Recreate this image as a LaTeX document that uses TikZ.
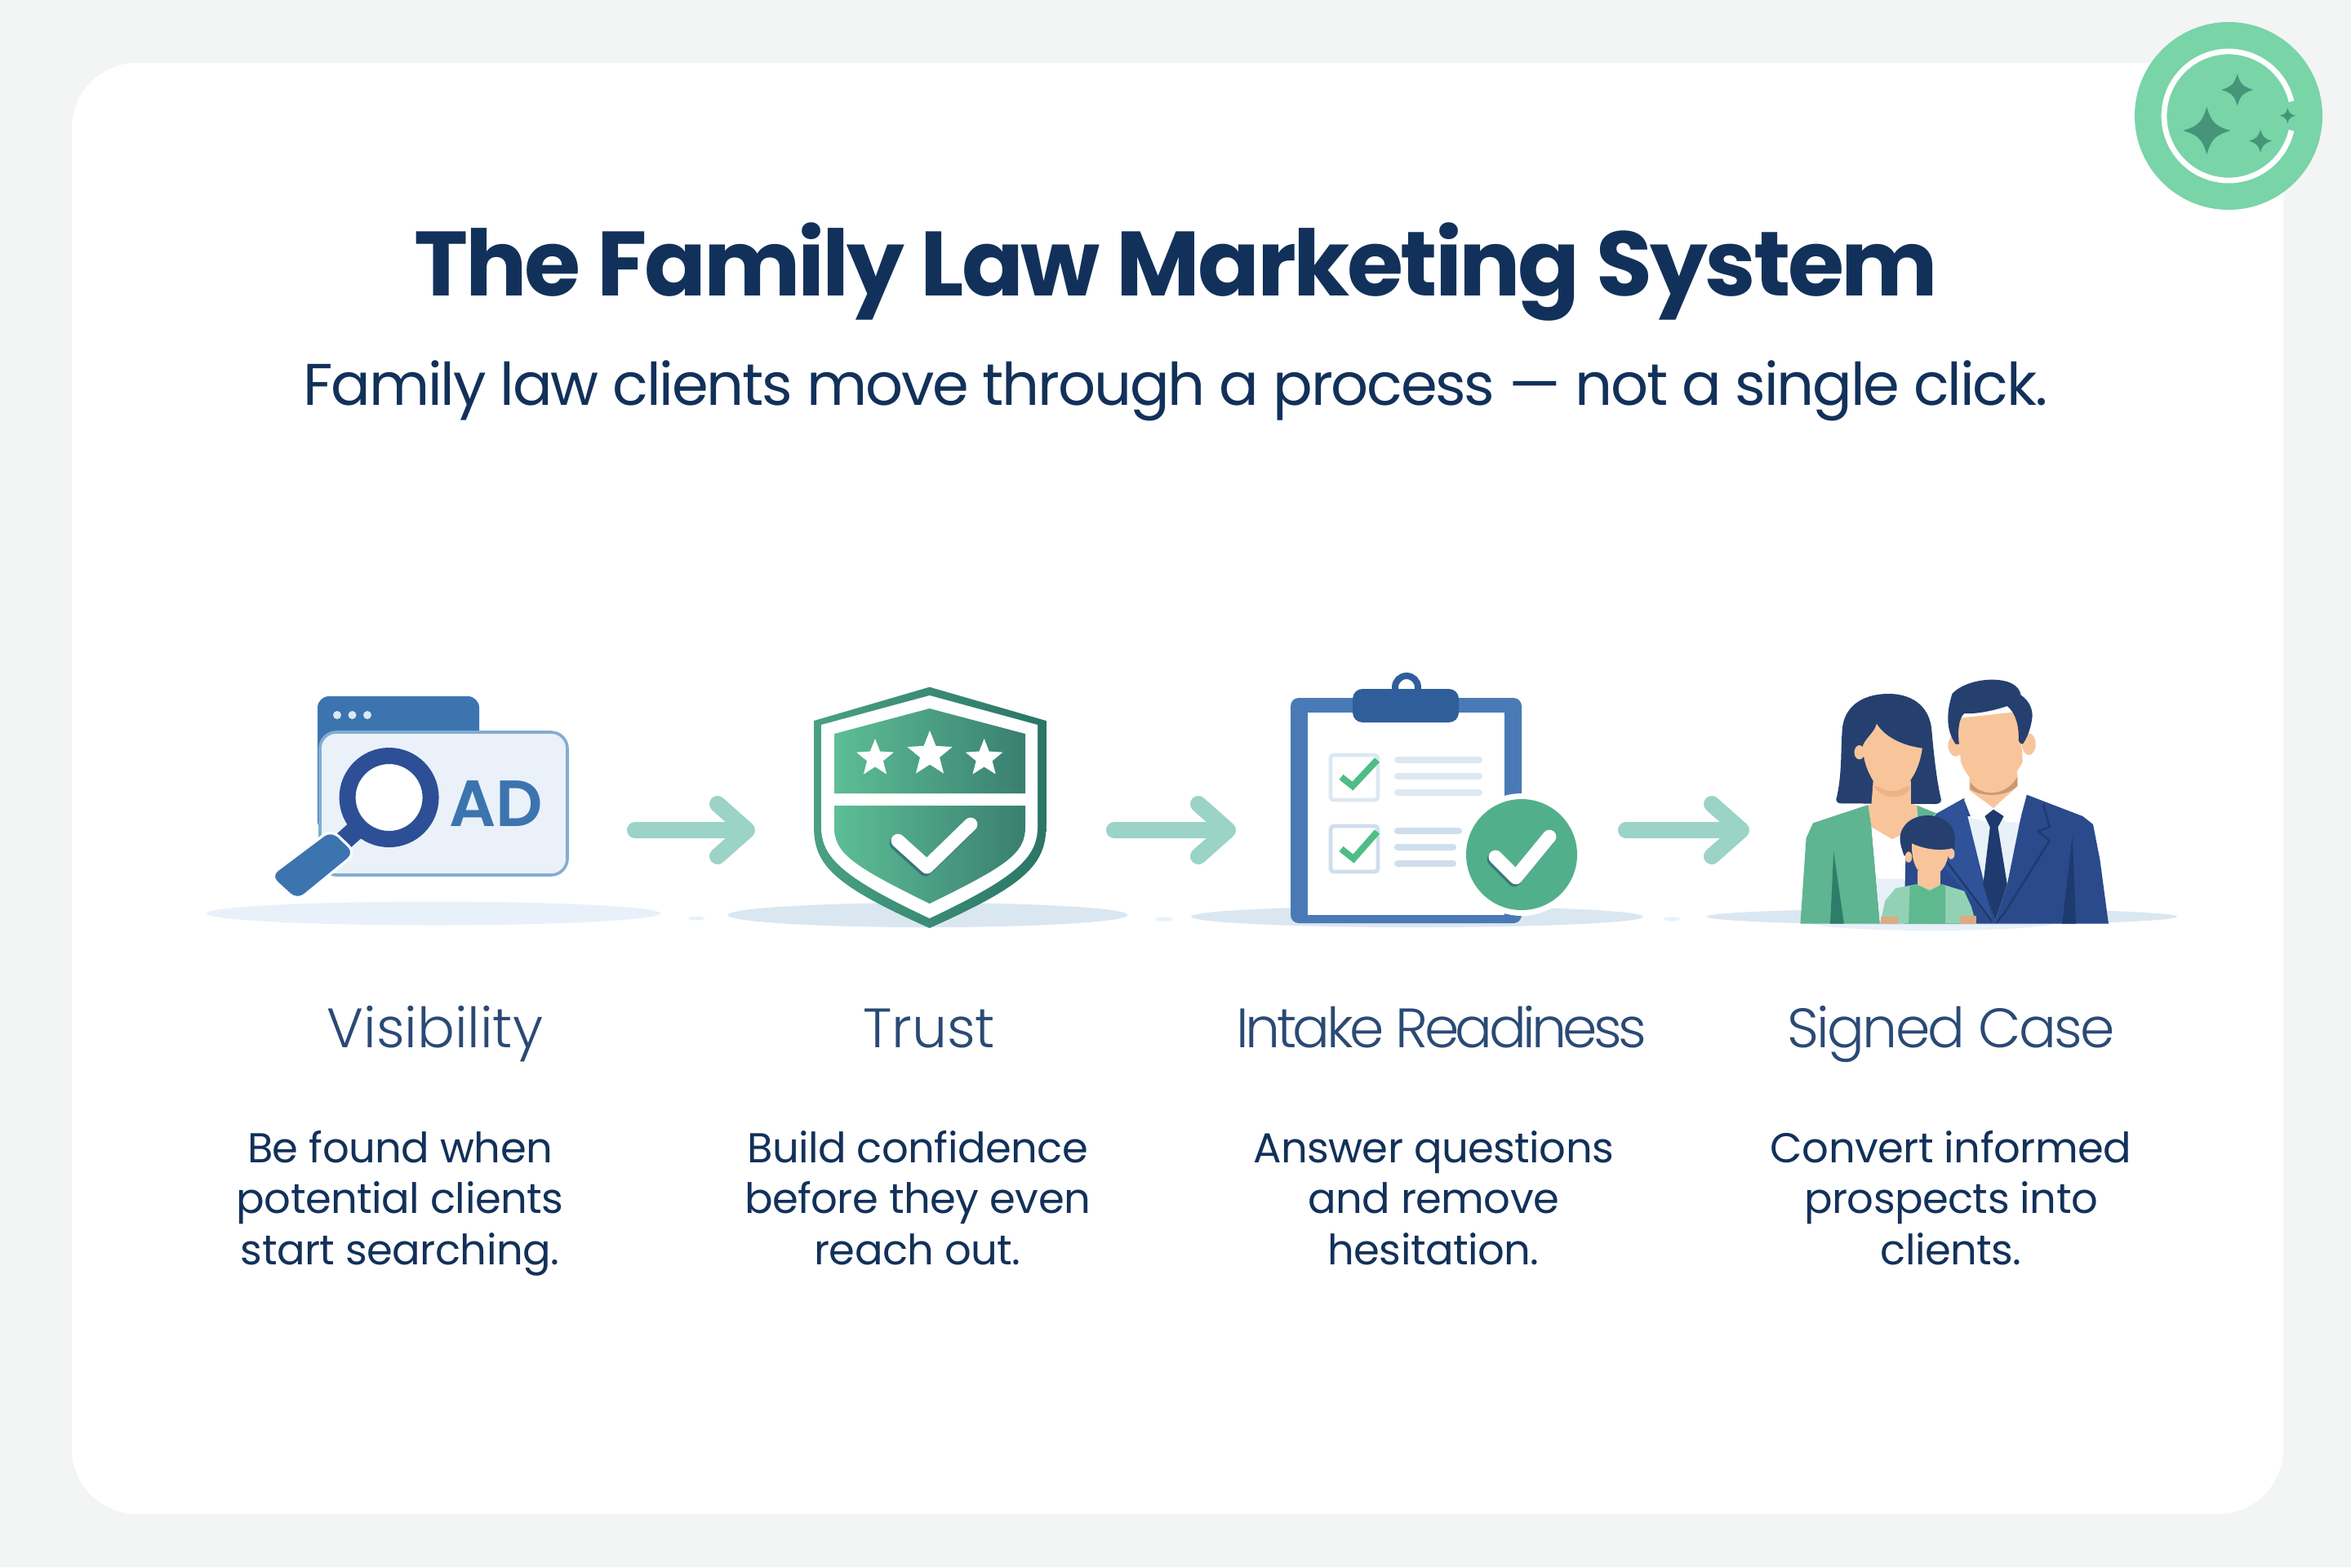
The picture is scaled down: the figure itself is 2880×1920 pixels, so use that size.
\documentclass[tikz,border=0pt]{standalone}
\usepackage{fontspec}
\setmainfont{Poppins}
\newfontfamily\lightfont{Poppins Light}
\newfontfamily\semifont{Poppins SemiBold}
\usetikzlibrary{arrows.meta,shapes.geometric}

\definecolor{pagegrey}{HTML}{F3F5F4}
\definecolor{navy}{HTML}{12315A}
\definecolor{labelblue}{HTML}{2A4A75}
\definecolor{badgegreen}{HTML}{79D4A8}
\definecolor{sparkgreen}{HTML}{46957A}
\definecolor{arrowteal}{HTML}{9BD3C7}
\definecolor{winblue}{HTML}{3C74B0}
\definecolor{ringblue}{HTML}{2D4F96}
\definecolor{cardblue}{HTML}{EAF1F9}
\definecolor{cardline}{HTML}{84ADD0}
\definecolor{groundA}{HTML}{E8F1F9}
\definecolor{groundB}{HTML}{DAE7F1}
\definecolor{shieldlight}{HTML}{5DBE96}
\definecolor{shielddark}{HTML}{3A7F70}
\definecolor{shieldedge}{HTML}{2B7566}
\definecolor{boardblue}{HTML}{4A7AB5}
\definecolor{clipblue}{HTML}{2F5E9B}
\definecolor{paleline}{HTML}{DCE8F2}
\definecolor{paleline2}{HTML}{CFDEEC}
\definecolor{tickgreen}{HTML}{4FBD86}
\definecolor{discgreen}{HTML}{52AF8C}
\definecolor{hairblue}{HTML}{25406F}
\definecolor{skin}{HTML}{F8C59B}
\definecolor{skinshade}{HTML}{EDB388}
\definecolor{jacketgreen}{HTML}{5FB491}
\definecolor{folddark}{HTML}{2E7D6B}
\definecolor{suitblue}{HTML}{2A4A8C}
\definecolor{suitlight}{HTML}{2F5299}
\definecolor{tieblue}{HTML}{1E3A6E}
\definecolor{shirtpale}{HTML}{E8F0F8}
\definecolor{kidjacket}{HTML}{93D1B4}
\definecolor{kidshirt}{HTML}{5FB98E}
\definecolor{kidhand}{HTML}{DDAA82}

\tikzset{
    titletext/.style={font=\bfseries\fontsize{28}{34}\selectfont\addfontfeatures{LetterSpace=-3.05}, text=navy, anchor=base, inner sep=0pt},
    subtext/.style={font=\fontsize{18}{22}\selectfont\addfontfeatures{LetterSpace=-3.05}, text=navy, anchor=base, inner sep=0pt},
    steplabel/.style={font=\lightfont\fontsize{17}{21}\selectfont, text=labelblue, anchor=base, inner sep=0pt},
    stepdesc/.style={font=\fontsize{12.8}{15.6}\selectfont\addfontfeatures{LetterSpace=-1.1}, text=navy, anchor=base, align=center, inner sep=0pt},
    flowarrow/.style={draw=arrowteal, line width=5pt, line cap=round, -{Straight Barb[length=9pt,width=16pt,round]}},
    tick/.style={line width=4.2pt, line cap=round, line join=round, draw=white},
    tickshade/.style={line width=4.2pt, line cap=round, line join=round, draw=tieblue, opacity=.45},
    ticksmall/.style={line width=2pt, line join=miter, draw=tickgreen},
    textline/.style={line width=2pt, line cap=round, draw=paleline},
    starmark/.style={star, star points=5, star point ratio=2.3, fill=white, inner sep=0pt}
}
\newcommand{\sparkle}[3]{\fill[sparkgreen, shift={(#1,#2)}, scale=#3] (-1,0) .. controls (-.35,-.2) and (-.2,-.35) .. (0,-1) .. controls (.2,-.35) and (.35,-.2) .. (1,0) .. controls (.35,.2) and (.2,.35) .. (0,1) .. controls (-.2,.35) and (-.35,.2) .. (-1,0) -- cycle;}

\begin{document}
\begin{tikzpicture}[x=.25pt,y=-.25pt]
    \useasboundingbox (0,0) rectangle (2880,1920);
    \fill[pagegrey] (0,0) rectangle (2880,1920);
    % Card
    \fill[white, rounded corners=20pt] (88,77) rectangle (2797,1855);

    %% BADGE
    \fill[badgegreen] (2730,142) circle[radius=115];
    % Ring
    \draw[white, line width=1.7pt] (2807,159.8) arc (13:347:79);
    % Sparkles
    \sparkle{2703.3}{160}{29}
    \sparkle{2740.7}{110}{19.5}
    \sparkle{2769}{172.7}{14}
    \sparkle{2802.3}{141.7}{9.3}

    %% TITLE
    \node[titletext] (title) at (1441,362) {The Family Law Marketing System};
    \node[subtext] (subtitle) at (1440,496) {Family law clients move through a process — not a single click.};

    %% GROUND
    \fill[groundA] (531,1119) ellipse[x radius=278, y radius=14.5];
    \fill[groundA] (853,1125) ellipse[x radius=10, y radius=2.5];
    \fill[groundB] (1136.5,1121) ellipse[x radius=245, y radius=15];
    \fill[groundA] (1426,1126) ellipse[x radius=11, y radius=2.5];
    \fill[groundB] (1736,1123) ellipse[x radius=277, y radius=13];
    \fill[groundA] (2048,1126) ellipse[x radius=10, y radius=2.5];
    \fill[groundA] (2368,1130) ellipse[x radius=150, y radius=10];
    \fill[groundB] (2379,1123) ellipse[x radius=288, y radius=10];

    %% VISIBILITY
    % Window
    \fill[winblue, rounded corners=3.5pt] (389,853) rectangle (587,1020);
    \fill[paleline] (413,876) circle[radius=5];
    \fill[paleline] (431.5,876) circle[radius=5];
    \fill[paleline] (450,876) circle[radius=5];
    % Ad card
    \draw[cardline, fill=cardblue, line width=.9pt, rounded corners=5pt] (392,897) rectangle (695,1072);
    \node[font=\semifont\fontsize{20}{24}\selectfont, text=winblue, anchor=base, inner sep=0pt] (adtext) at (608,1012) {AD};
    % Magnifier
    \draw[ringblue, line width=6pt] (440,1013) -- (420,1031);
    \draw[ringblue, fill=white, line width=5pt] (476.6,977) circle[radius=51];
    \draw[white, fill=winblue, line width=.8pt, rounded corners=3pt] (406,1016) -- (436,1045) -- (364,1104) -- (330,1073) -- cycle;

    %% TRUST
    % Outer
    \path[left color=shieldlight!60!shieldedge, right color=shieldedge] (1138.7,841.7) -- (1281.5,883) -- (1281.5,1013) .. controls (1281,1060) and (1255,1085) .. (1138.7,1137) .. controls (1022,1085) and (997,1060) .. (997,1013) -- (997,883) -- cycle;
    % Inner
    \fill[white] (1138.7,852) -- (1271,888) -- (1271,1013) .. controls (1271,1050) and (1245,1075) .. (1138.7,1125) .. controls (1032,1075) and (1006,1050) .. (1006,1013) -- (1006,888) -- cycle;
    % Panels
    \path[left color=shieldlight, middle color=shieldlight, right color=shielddark] (1138.7,868) -- (1256,899) -- (1256,972) -- (1022,972) -- (1022,899) -- cycle;
    \path[left color=shieldlight, middle color=shieldlight!70!shielddark, right color=shielddark] (1022,987) -- (1256,987) -- (1256,1013) .. controls (1256,1045) and (1235,1060) .. (1138.7,1107) .. controls (1043,1060) and (1022,1045) .. (1022,1013) -- cycle;
    % Stars
    \node[starmark, minimum size=12pt] (stara) at (1072,929) {};
    \node[starmark, minimum size=14.5pt] (starb) at (1139,924) {};
    \node[starmark, minimum size=12pt] (starc) at (1205.6,929) {};
    % Check
    \draw[tickshade] (1098,1033) -- (1133.5,1065) -- (1187,1013);
    \draw[tick] (1100,1030) -- (1135.5,1062) -- (1189,1010);

    %% INTAKE READINESS
    % Board
    \fill[boardblue, rounded corners=2.5pt] (1581,855) rectangle (1864,1131);
    \fill[white] (1602,873) rectangle (1843,1121);
    % Clip
    \draw[clipblue, line width=2pt] (1723,842) circle[radius=14];
    \fill[clipblue, rounded corners=3pt] (1657,844) rectangle (1787,885);
    % Boxes
    \draw[paleline, line width=1.2pt, rounded corners=1pt] (1630,925) rectangle (1688,980);
    \draw[paleline2, line width=1.2pt, rounded corners=1pt] (1630,1012) rectangle (1688,1068);
    \draw[ticksmall] (1643,952) -- (1657,963) -- (1687,931);
    \draw[ticksmall] (1643,1040) -- (1658,1052) -- (1687,1019);
    % Text lines
    \draw[textline] (1712,931) -- (1812,931);
    \draw[textline] (1712,951) -- (1812,951);
    \draw[textline] (1712,971) -- (1812,971);
    \draw[textline, draw=paleline2] (1712,1018) -- (1787,1018);
    \draw[textline, draw=paleline2] (1712,1038) -- (1780,1038);
    \draw[textline, draw=paleline2] (1712,1058) -- (1780,1058);
    % Disc
    \fill[white] (1864,1047) circle[radius=75];
    \fill[discgreen] (1864,1047) circle[radius=68];
    \draw[tickshade] (1830,1053) -- (1855,1078) -- (1896,1028);
    \draw[tick] (1832,1050) -- (1857,1075) -- (1898,1025);

    %% SIGNED CASE
    \begin{scope}[shift={(2040,800)},x=.10522pt,y=-.08333pt]
        %% WOMAN
        % Hair
        \fill[hairblue] (497,540) .. controls (515,450) and (510,360) .. (515,280) .. controls (520,200) and (570,150) .. (650,150) .. controls (730,150) and (770,210) .. (775,280) .. controls (782,380) and (790,470) .. (803,540) .. controls (803,550) and (795,555) .. (785,555) -- (515,553) .. controls (503,553) and (497,548) .. (497,540) -- cycle;
        % Neck
        \fill[skin] (605,470) -- (600,555) -- (590,560) -- (600,640) -- (660,685) -- (730,640) -- (735,560) -- (715,555) -- (715,470) -- cycle;
        \fill[skinshade] (607,490) .. controls (630,540) and (700,545) .. (715,490) -- cycle;
        % Face
        \fill[skin] (565,365) circle[x radius=15, y radius=26];
        \fill[skin] (575,340) .. controls (585,310) and (610,290) .. (615,260) .. controls (640,310) and (690,340) .. (748,350) .. controls (740,420) and (720,460) .. (700,490) .. controls (670,515) and (640,515) .. (610,480) .. controls (585,430) and (575,390) .. (575,340) -- cycle;
        % Jacket
        \fill[jacketgreen] (590,558) -- (430,625) -- (410,680) -- (393,995) -- (625,995) -- (600,640) -- cycle;
        \fill[jacketgreen] (733,560) -- (790,590) -- (735,640) -- cycle;
        \fill[folddark] (490,730) -- (480,995) -- (520,995) -- cycle;
        % Blouse
        \fill[white] (600,640) -- (660,685) -- (700,680) -- (700,995) -- (625,995) -- cycle;
        \fill[shirtpale] (615,830) -- (700,830) -- (700,995) -- (625,995) -- cycle;

        %% MAN
        % Suit
        \fill[suitblue] (868,535) -- (790,590) -- (700,720) -- (695,995) -- (1290,995) -- (1265,760) -- (1245,630) -- (1215,600) -- (1050,520) -- cycle;
        \fill[suitlight] (868,535) -- (790,590) -- (800,770) -- (955,995) -- (925,850) -- cycle;
        % Shirt
        \fill[shirtpale] (880,600) -- (1035,600) -- (995,850) -- (960,985) -- (930,855) -- cycle;
        % Neck
        \fill[skin] (885,440) -- (885,510) -- (955,570) -- (1025,500) -- (1025,440) -- cycle;
        \fill[skinshade!85!black] (887,475) .. controls (920,530) and (990,530) .. (1025,455) -- (1025,490) .. controls (990,530) and (920,530) .. (887,500) -- cycle;
        % Collar
        \fill[white] (870,540) -- (890,605) -- (930,620) -- (955,575) -- (990,620) -- (1030,625) -- (1052,520) -- (1025,490) -- (955,570) -- (885,505) -- cycle;
        % Tie
        \fill[tieblue] (930,600) -- (955,575) -- (985,600) -- (968,640) -- (995,850) -- (960,985) -- (925,850) -- (945,640) -- cycle;
        % Lapels
        \draw[tieblue, line width=.6pt] (1100,555) -- (1118,640) -- (1085,655) -- (1118,690) -- (990,950) -- (965,990);
        \draw[tieblue, line width=.6pt] (815,760) -- (950,985);
        \fill[tieblue] (1185,670) -- (1155,995) -- (1195,995) -- cycle;
        % Head
        \fill[skin] (845,340) circle[x radius=22, y radius=40];
        \fill[skin] (1058,335) circle[x radius=20, y radius=40];
        \fill[skin] (850,240) -- (1030,215) -- (1040,400) .. controls (1020,450) and (985,505) .. (950,505) .. controls (910,505) and (875,450) .. (860,400) -- cycle;
        % Hair
        \fill[hairblue] (845,335) .. controls (820,290) and (815,230) .. (835,150) .. controls (860,115) and (910,98) .. (950,98) .. controls (995,98) and (1030,115) .. (1035,155) .. controls (1060,175) and (1070,210) .. (1068,235) .. controls (1065,270) and (1055,310) .. (1040,335) .. controls (1035,335) and (1030,330) .. (1028,320) .. controls (1030,270) and (1020,220) .. (995,195) .. controls (960,210) and (910,225) .. (870,222) .. controls (855,240) and (850,280) .. (855,335) -- cycle;

        %% CHILD
        % Hair
        \fill[hairblue] (683,680) .. controls (685,630) and (720,597) .. (765,597) .. controls (810,597) and (843,635) .. (843,680) .. controls (843,700) and (840,730) .. (835,750) -- (695,745) .. controls (688,720) and (683,700) .. (683,680) -- cycle;
        % Head
        \fill[skin] (708,750) circle[x radius=10, y radius=20];
        \fill[skin] (832,738) circle[x radius=10, y radius=20];
        \fill[skin] (735,800) rectangle (800,870);
        \fill[skin] (718,700) .. controls (740,715) and (790,730) .. (825,720) .. controls (825,770) and (805,815) .. (770,825) .. controls (735,820) and (715,770) .. (718,700) -- cycle;
        % Clothes
        \fill[kidjacket] (730,850) -- (670,865) -- (640,910) -- (625,995) -- (905,995) -- (890,930) -- (870,875) -- (805,850) -- (770,870) -- cycle;
        \fill[kidshirt] (712,858) -- (730,850) -- (770,875) -- (805,850) -- (815,858) -- (815,995) -- (708,995) -- cycle;
        % Hands
        \fill[kidhand] (628,968) rectangle (678,995);
        \fill[kidhand] (858,965) rectangle (905,995);
    \end{scope}

    %% ARROWS
    \coordinate (visend) at (778,1017);
    \coordinate (trustin) at (925,1017);
    \coordinate (trustend) at (1365,1017);
    \coordinate (intakein) at (1514,1017);
    \coordinate (intakeend) at (1992,1017);
    \coordinate (casein) at (2143,1017);
    \draw[flowarrow] (visend) -- (trustin);
    \draw[flowarrow] (trustend) -- (intakein);
    \draw[flowarrow] (intakeend) -- (casein);

    %% LABELS
    \node[steplabel] (vislabel) at (533,1283) {Visibility};
    \node[steplabel] (trustlabel) at (1138,1283) {Trust};
    \node[steplabel] (intakelabel) at (1766,1283) {\addfontfeatures{LetterSpace=-6.7}Intake Readiness};
    \node[steplabel] (caselabel) at (2390,1283) {\addfontfeatures{LetterSpace=-4}Signed Case};

    %% DESCRIPTIONS
    \node[stepdesc] (visdesc) at (490,1549) {Be found when\\potential clients\\start searching.};
    \node[stepdesc] (trustdesc) at (1124,1549) {Build confidence\\before they even\\reach out.};
    \node[stepdesc] (intakedesc) at (1756,1549) {Answer questions\\and remove\\hesitation.};
    \node[stepdesc] (casedesc) at (2390,1549) {Convert informed\\prospects into\\clients.};
\end{tikzpicture}
\end{document}
